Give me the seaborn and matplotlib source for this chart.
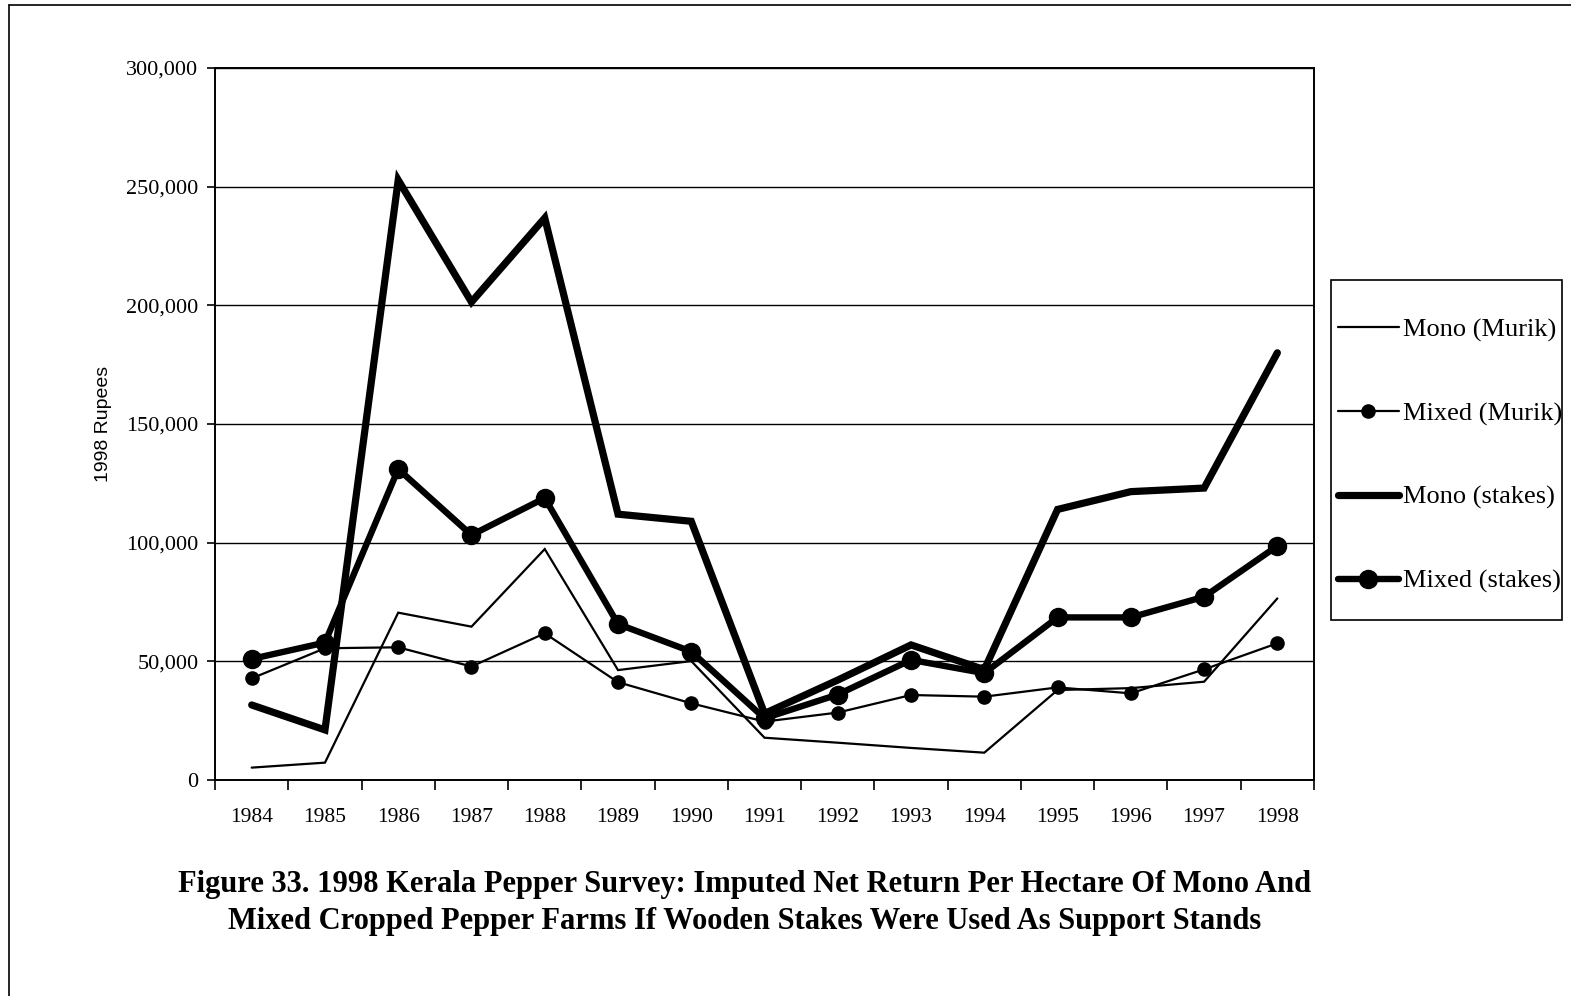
import numpy as np
import pandas as pd
import matplotlib
matplotlib.use('Agg')
import matplotlib.pyplot as plt
import seaborn as sns
from matplotlib.ticker import FuncFormatter, MultipleLocator
from matplotlib.lines import Line2D
from matplotlib.patches import Rectangle

years = list(range(1984, 1999))
mono_murik = [5200, 7300, 70500, 64600, 97300, 46300, 50100, 17800, 15700, 13500, 11500, 37900, 38700, 41400, 76500]
mixed_murik = [42800, 55500, 55900, 47800, 61800, 41200, 32300, 24600, 28400, 35800, 35100, 39000, 36500, 46600, 57600]
mono_stakes = [31600, 21100, 252800, 201400, 236800, 112000, 109000, 28000, 42100, 56900, 46500, 114000, 121500, 123000, 180000]
mixed_stakes = [51000, 57900, 131000, 103200, 118800, 65700, 54100, 26000, 36000, 50600, 45000, 68500, 68500, 77200, 98600]

series_names = ['Mono (Murik)', 'Mixed (Murik)', 'Mono (stakes)', 'Mixed (stakes)']
y_ticks = [0, 50000, 100000, 150000, 200000, 250000, 300000]
title = ("Figure 33. 1998 Kerala Pepper Survey: Imputed Net Return Per Hectare Of Mono And\n"
         "Mixed Cropped Pepper Farms If Wooden Stakes Were Used As Support Stands")

df = pd.DataFrame({'year': years * 4,
                   'value': mono_murik + mixed_murik + mono_stakes + mixed_stakes,
                   'series': np.repeat(series_names, len(years))})

sns.set_style('white')
plt.rcParams['font.family'] = ['Liberation Serif', 'DejaVu Serif']
plt.rcParams['text.color'] = 'black'
plt.rcParams['axes.labelcolor'] = 'black'
plt.rcParams['xtick.color'] = 'black'
plt.rcParams['ytick.color'] = 'black'

fig = plt.figure(figsize=(15.71, 9.96), dpi=100)
ax = fig.add_axes([0.1369, 0.2169, 0.8364 - 0.1369, 0.9317 - 0.2169])

styles = {'Mono (Murik)': dict(lw=1.6, marker=None, ms=0),
          'Mixed (Murik)': dict(lw=1.6, marker='o', ms=10.5),
          'Mono (stakes)': dict(lw=5.2, marker=None, ms=0),
          'Mixed (stakes)': dict(lw=4.6, marker='o', ms=14)}

handles = []
for name in series_names:
    st = styles[name]
    sns.lineplot(data=df[df.series == name], x='year', y='value', ax=ax,
                 color='black', lw=st['lw'], marker=st['marker'], markersize=st['ms'],
                 markeredgewidth=0, solid_capstyle='round', solid_joinstyle='miter',
                 legend=False, zorder=3)
    handles.append(Line2D([], [], color='black', lw=st['lw'], marker=st['marker'],
                          markersize=st['ms'], markeredgewidth=0))

ax.set_xlim(1983.5, 1998.5)
ax.set_ylim(0, 300000)
ax.set_yticks(y_ticks)
ax.yaxis.set_major_formatter(FuncFormatter(lambda v, p: f'{int(v):,}'))
ax.set_xticks(years)
ax.set_xticklabels([str(y) for y in years])
ax.xaxis.set_minor_locator(MultipleLocator(1, offset=0.5))
ax.tick_params(axis='x', which='major', length=0, pad=20, labelsize=15.5)
ax.tick_params(axis='x', which='minor', length=7, width=1.2, color='black', direction='out', bottom=True)
ax.tick_params(axis='y', length=6, width=1.2, color='black', direction='out', left=True, labelsize=16, pad=6)
ax.grid(axis='y', color='black', lw=1.0)
ax.set_axisbelow(True)
for sp in ax.spines.values():
    sp.set_color('black')
    sp.set_linewidth(1.4)
ax.set_xlabel('')
ax.set_ylabel('1998 Rupees', family=['Liberation Sans Narrow', 'Liberation Sans'], fontsize=14, labelpad=10)

# legend box drawn separately so padding matches the scan
fig.add_artist(Rectangle((1331 / 1571, 1 - 620 / 996), 231 / 1571, 340 / 996,
                         transform=fig.transFigure, fill=False, edgecolor='black', lw=1.2))
fig.legend(handles, series_names, loc='upper left', bbox_to_anchor=(1338 / 1571, 1 - 318 / 996),
           frameon=False, fontsize=19, handlelength=2.3, handletextpad=0.15,
           labelspacing=2.27, borderpad=0, borderaxespad=0)

fig.text(0.474, 1 - 903 / 996, title, ha='center', va='center', fontsize=22, fontweight='bold',
         linespacing=1.35)

# scan border (top and left)
fig.add_artist(Line2D([0.006, 1.0], [0.995, 0.995], color='black', lw=1.2))
fig.add_artist(Line2D([0.006, 0.006], [0.0, 0.995], color='black', lw=1.2))

fig.savefig('out.png', dpi=100)
